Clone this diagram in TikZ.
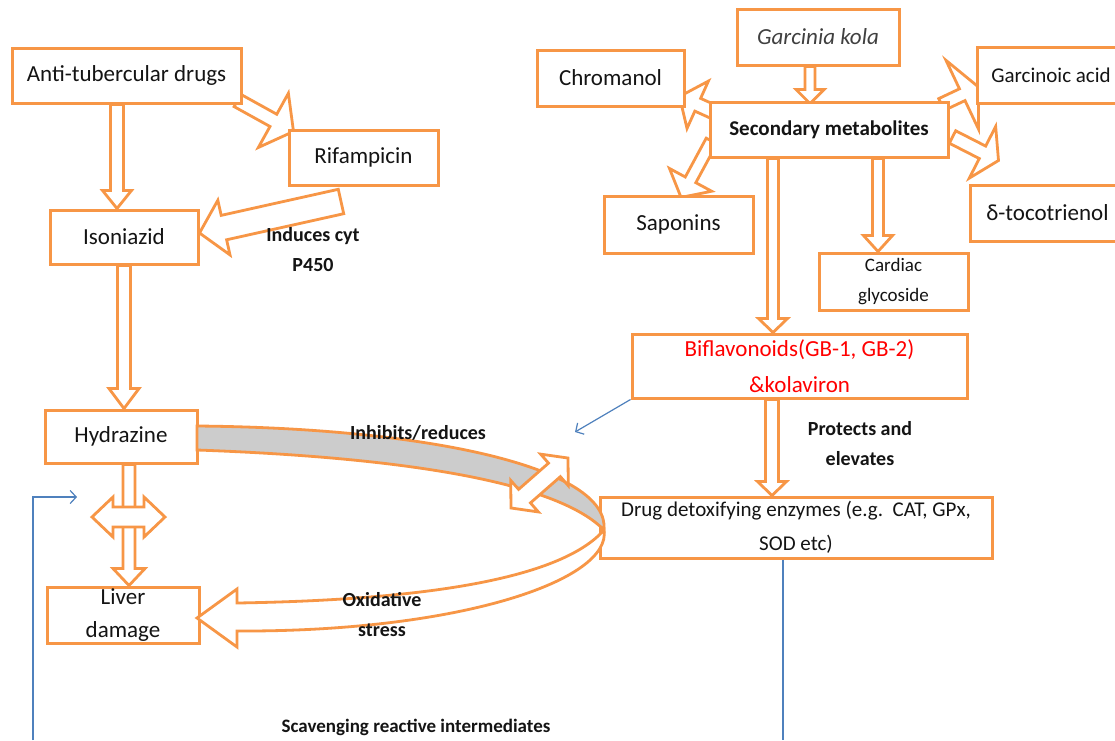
\documentclass[tikz,border=0pt]{standalone}
\usepackage{fontspec}
\setmainfont{Carlito}
\usetikzlibrary{arrows.meta,calc}
\pgfdeclarelayer{bg}
\pgfsetlayers{bg,main}
\definecolor{org}{RGB}{247,150,70}
\definecolor{bandgray}{RGB}{204,204,204}
\definecolor{blu}{RGB}{79,129,189}
\definecolor{txt}{RGB}{20,20,20}
\definecolor{gktext}{RGB}{64,64,64}
\tikzset{
  box/.style={draw=org, line width=3pt, fill=white, rectangle, inner sep=0pt, align=center, text=txt, font=\fontsize{23}{33}\selectfont},
  barrow/.style={draw=org, line width=2.8pt, fill=white, line join=miter},
  band/.style={draw=org, line width=2.8pt, fill=bandgray},
  lbl/.style={font=\bfseries\fontsize{20}{30}\selectfont, align=center, text=txt, inner sep=0pt},
  conn/.style={draw=blu, line width=1.2pt},
  barb/.style={-{Straight Barb[length=6pt,width=13pt]}}
}
% block arrow: from, to, shaft half-width, head half-width, head length (pt numbers)
\newcommand\blockarrow[5]{%
  \path (#1); \pgfgetlastxy{\bax}{\bay}%
  \path (#2); \pgfgetlastxy{\bbx}{\bby}%
  \pgfmathsetmacro\bang{atan2((\bby)-(\bay),(\bbx)-(\bax))}%
  \pgfmathsetmacro\blen{veclen((\bbx)-(\bax),(\bby)-(\bay))}%
  \begin{scope}[shift={(\bax,\bay)},rotate=\bang]
    \draw[barrow] (0pt,-#3pt) -- ({\blen pt-#5pt},-#3pt) -- ({\blen pt-#5pt},-#4pt) -- (\blen pt,0pt)
      -- ({\blen pt-#5pt},#4pt) -- ({\blen pt-#5pt},#3pt) -- (0pt,#3pt) -- cycle;
  \end{scope}}
\newcommand\dblarrow[5]{%
  \path (#1); \pgfgetlastxy{\bax}{\bay}%
  \path (#2); \pgfgetlastxy{\bbx}{\bby}%
  \pgfmathsetmacro\bang{atan2((\bby)-(\bay),(\bbx)-(\bax))}%
  \pgfmathsetmacro\blen{veclen((\bbx)-(\bax),(\bby)-(\bay))}%
  \begin{scope}[shift={(\bax,\bay)},rotate=\bang]
    \draw[barrow] (0pt,0pt) -- (#5pt,#4pt) -- (#5pt,#3pt) -- ({\blen pt-#5pt},#3pt) -- ({\blen pt-#5pt},#4pt)
      -- (\blen pt,0pt) -- ({\blen pt-#5pt},-#4pt) -- ({\blen pt-#5pt},-#3pt) -- (#5pt,-#3pt) -- (#5pt,-#4pt) -- cycle;
  \end{scope}}
\begin{document}
\begin{tikzpicture}[x=1pt,y=-1pt]
\useasboundingbox (0,0) rectangle (1115,740);
\begin{pgfonlayer}{bg}
  \fill[white] (0,0) rectangle (1115,740);
\end{pgfonlayer}

% ---------- boxes ----------
\node[box, minimum width=229pt, minimum height=55pt] (anti) at (126.5,75.5) {Anti-tubercular drugs};
\node[box, minimum width=149pt, minimum height=55pt] (rif) at (363.5,157.5) {Rifampicin};
\node[box, minimum width=148pt, minimum height=54pt] (iso) at (124,237) {Isoniazid};
\node[box, minimum width=152pt, minimum height=53pt] (hyd) at (121,436.5) {Hydrazine};
\node[box, minimum width=152pt, minimum height=56pt] (liver) at (123,615) {Liver\\damage};

\node[box, minimum width=162pt, minimum height=56pt, font=\itshape\fontsize{23}{27}\selectfont, text=gktext] (gk) at (818,37) {Garcinia kola};
\node[box, minimum width=147pt, minimum height=56pt] (chrom) at (610.5,78) {Chromanol};
\node[box, minimum width=238pt, minimum height=55pt, font=\bfseries\fontsize{21}{25}\selectfont] (sec) at (829,129.5) {Secondary metabolites};
\node[box, minimum width=148pt, minimum height=56pt, font=\fontsize{21}{25}\selectfont] (garc) at (1051,75) {Garcinoic acid};
\node[box, minimum width=155pt, minimum height=56pt] (toco) at (1047.5,213) {δ-tocotrienol};
\node[box, minimum width=149pt, minimum height=57pt] (sap) at (678.5,224.5) {Saponins};
\node[box, minimum width=149pt, minimum height=57pt, font=\fontsize{19}{30}\selectfont] (card) at (893.5,281.5) {Cardiac\\glycoside};
\node[box, minimum width=335pt, minimum height=64pt, text=red, font=\fontsize{23}{36}\selectfont] (bif) at (799.5,366) {Biflavonoids(GB-1, GB-2)\\\&kolaviron};
\node[box, minimum width=392pt, minimum height=61pt, font=\fontsize{21}{34}\selectfont] (enz) at (796,527.5) {Drug detoxifying enzymes (e.g.~~CAT, GPx,\\SOD etc)};

% ---------- block arrows (under the boxes) ----------
\begin{pgfonlayer}{bg}
  \blockarrow{[xshift=-9.5pt]anti.south}{[xshift=-7pt]iso.north}{6.5}{14.5}{18}
  \blockarrow{[xshift=-5pt,yshift=4pt]anti.south east}{[xshift=6pt,yshift=-3pt]rif.north west}{7}{31}{23}
  \blockarrow{[xshift=-22.5pt,yshift=-15pt]rif.south}{[yshift=4pt]iso.east}{12.5}{28}{25}
  \blockarrow{iso.south}{[xshift=3pt]hyd.north}{6.5}{15}{20}
  \blockarrow{[xshift=8pt]hyd.south}{[xshift=6pt]liver.north}{6}{16}{17}
  \blockarrow{[xshift=-8pt]gk.south}{[xshift=-19pt,yshift=-3pt]sec.north}{5}{14}{14}
  \blockarrow{[xshift=13pt,yshift=-15pt]sec.north west}{[xshift=-6pt,yshift=11pt]chrom.south east}{7}{26}{20}
  \blockarrow{[xshift=-8pt,yshift=-4pt]sec.north east}{[xshift=3pt,yshift=-12pt]garc.west}{6.5}{38}{18}
  \blockarrow{[xshift=3pt,yshift=-7.5pt]sec.east}{[xshift=30pt,yshift=23pt]toco.north west}{7}{29}{18}
  \blockarrow{[xshift=3pt,yshift=-11.5pt]sec.west}{[xshift=2.5pt,yshift=-3pt]sap.north}{6}{24}{20}
  \blockarrow{[xshift=-56pt]sec.south}{[xshift=-26.5pt]bif.north}{5.5}{14.5}{14}
  \blockarrow{[xshift=49pt]sec.south}{[xshift=-15.5pt]card.north}{5.5}{14.5}{16}
  \blockarrow{[xshift=-27.5pt]bif.south}{[xshift=-24pt]enz.north}{6.5}{14.5}{14}
\end{pgfonlayer}

% ---------- curved band ----------
\draw[barrow] (237,589) -- (197,618) -- (237,647) -- (237,631)
  .. controls (460,632) and (612,580) .. (604,530)
  .. controls (560,580) and (420,600) .. (237,603) -- cycle;
\draw[band] (197,426) .. controls (430,428) and (610,468) .. (604,530)
  .. controls (560,485) and (420,458) .. (197,450) -- cycle;

% ---------- double arrows ----------
\coordinate (e1) at (511,508);
\coordinate (e2) at (568,458);
\dblarrow{e1}{e2}{9}{21}{18}
\coordinate (d1) at (92,517);
\coordinate (d2) at (165,517);
\dblarrow{d1}{d2}{10}{20}{21}

% ---------- blue connectors ----------
\coordinate (b1) at (575,432);
\draw[conn, barb] (bif.south west) -- (b1);
\coordinate (s1) at (783,740);
\draw[conn] ([xshift=-13pt]enz.south) -- (s1);
\coordinate (s2) at (33,740);
\coordinate (s3) at (77,497);
\draw[conn, barb] (s2) |- (s3);

% ---------- labels ----------
\node[lbl] (induces) at (313,250) {Induces cyt\\P450};
\node[lbl] (inhib) at (418,433) {Inhibits/reduces};
\node[lbl] (prot) at (860,443.5) {Protects and\\elevates};
\node[lbl] (oxid) at (382,614.5) {Oxidative\\stress};
\node[lbl, font=\bfseries\fontsize{19}{25}\selectfont] (scav) at (416,727) {Scavenging reactive intermediates};
\end{tikzpicture}
\end{document}
